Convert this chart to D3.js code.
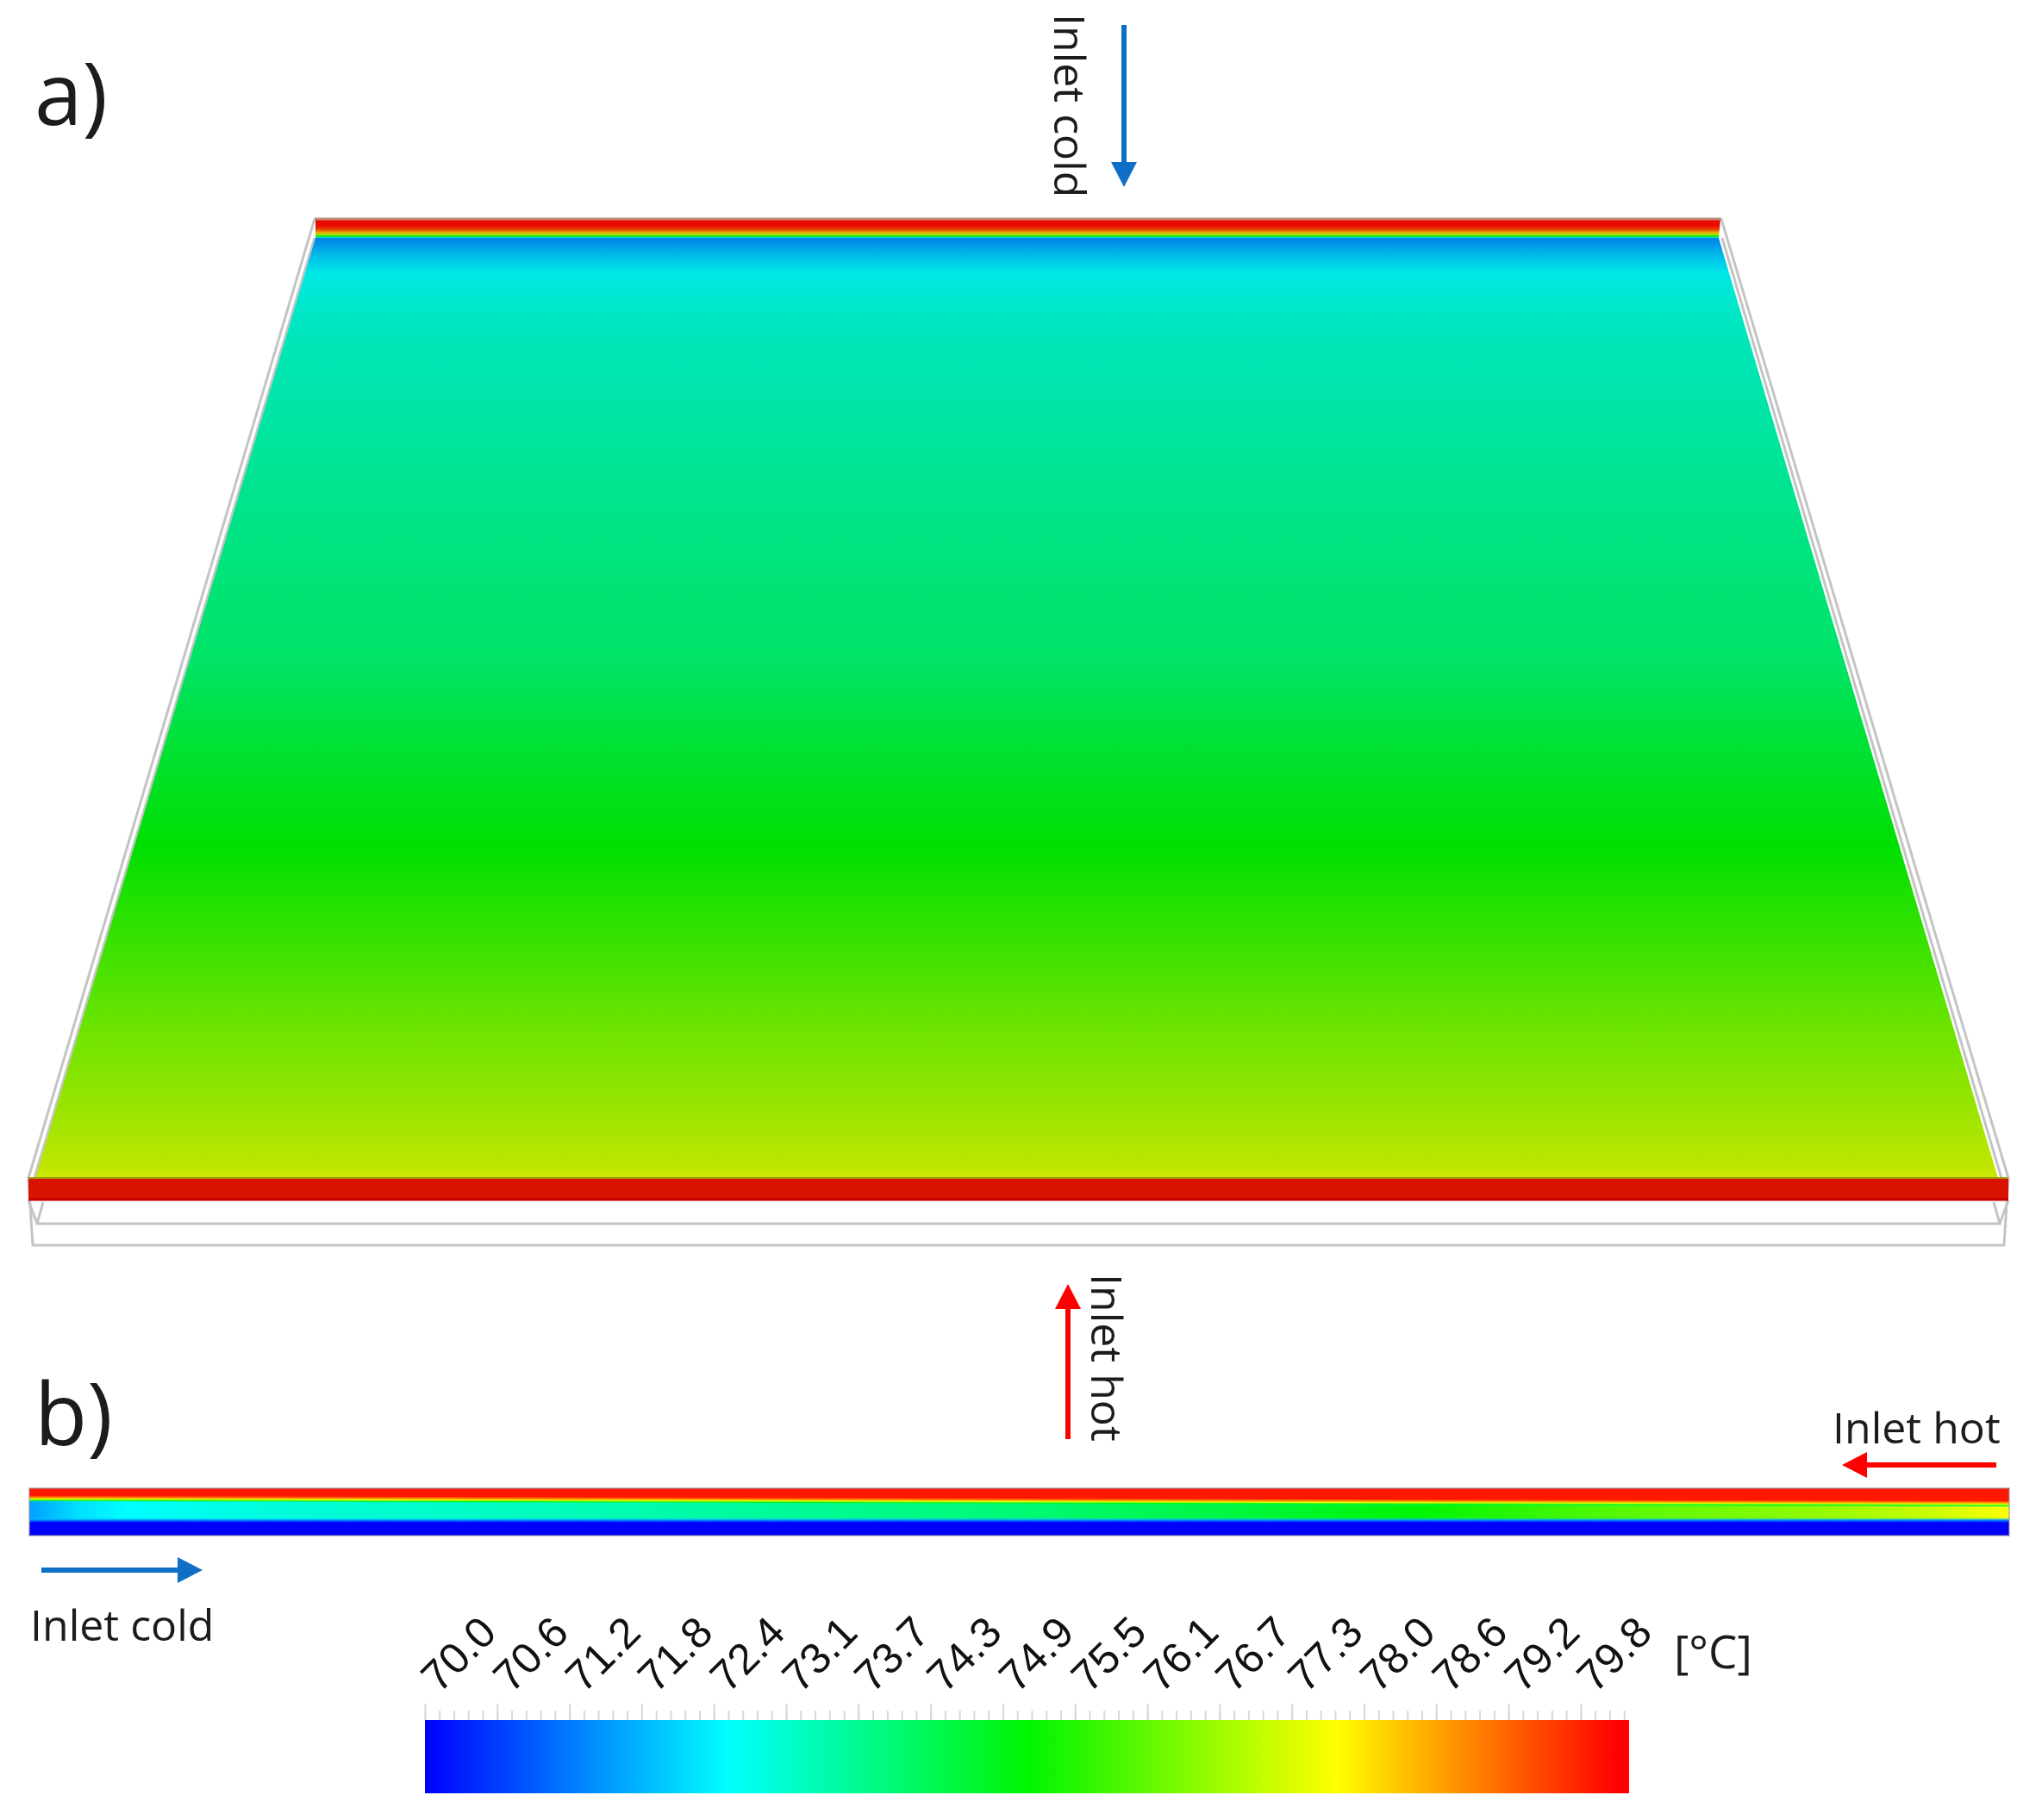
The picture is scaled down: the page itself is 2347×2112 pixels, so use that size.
<!DOCTYPE html>
<html>
<head>
<meta charset="utf-8">
<script src="https://cdn.jsdelivr.net/npm/d3@7"></script>
<style>
  html, body { margin: 0; padding: 0; background: #fff; }
  svg { display: block; }
  text { font-family: "Open Sans", sans-serif; fill: #1c1c1c; }
</style>
</head>
<body>
<svg id="chart" width="2347" height="2112"></svg>
<script>
// colour map of the legend (temperature -> colour)
const mapTemps = [70, 72.57, 75.14, 77.72, 80.12];
const mapColors = ["#0000ff", "#00ffff", "#00f500", "#ffff00", "#ff0000"];

// legend ticks
const tickLabels = ["70.0", "70.6", "71.2", "71.8", "72.4", "73.1", "73.7", "74.3", "74.9",
  "75.5", "76.1", "76.7", "77.3", "78.0", "78.6", "79.2", "79.8"];
const tickStep = 0.6125;
const legendMax = 80.21;

// panel a: temperature read down the plate, depth in % from the cold inlet edge
const plateDepth = [0, 0.7, 1.08, 1.44, 1.62, 1.8, 1.93, 2.0, 3.6, 5.6, 8.3, 12.8, 19.5, 26.1,
  32.7, 39.3, 45.9, 52.5, 59.1, 65.7, 72.3, 78.9, 85.5, 92.1, 98.7, 100];
const plateTemp = [80, 80, 79.5, 78.3, 77, 75.5, 73, 71.45, 72.0, 72.57, 72.85, 73.1, 73.3, 73.5,
  73.68, 73.86, 74.0, 74.4, 74.8, 75.14, 75.6, 76, 76.4, 76.8, 77.25, 77.45];

// panel b: middle layer temperature along the strip, position in %
const stripPos = [0, 2.5, 5, 11.6, 24.6, 37.6, 50.7, 60.5, 70.2, 80, 89.8, 96.3, 100];
const stripTemp = [71.6, 72.26, 72.57, 72.9, 73.2, 73.6, 74.0, 74.5, 75.14, 76, 76.6, 77.2, 77.72];

// panel b: hot and cold layer edges, offset in % across the band
const hotOffset = [0, 60, 72, 82, 90, 100];
const hotTemp = [79.9, 79.9, 78.8, 77.5, 75, 73];
const coldOffset = [0, 25, 50, 100];
const coldTemp = [72.4, 71.4, 70, 70];

const svg = d3.select("#chart");
const defs = svg.append("defs");

const colorScale = d3.scaleLinear().domain(mapTemps).range(mapColors).clamp(true);

// plate surface is lit, so it is a bit darker than the legend
const shade = c => {
  const k = 0.91, r = d3.rgb(c);
  return d3.rgb(r.r * k, r.g * k, r.b * k).formatHex();
};

function addGradient(id, x1, y1, x2, y2, offsets, colors, opacities) {
  const g = defs.append("linearGradient")
    .attr("id", id)
    .attr("gradientUnits", "userSpaceOnUse")
    .attr("x1", x1).attr("y1", y1).attr("x2", x2).attr("y2", y2);
  offsets.forEach((o, i) => {
    g.append("stop")
      .attr("offset", o + "%")
      .attr("stop-color", colors[i])
      .attr("stop-opacity", opacities ? opacities[i] : 1);
  });
}

function drawArrow(x1, y1, x2, y2, color) {
  const headLen = 29, headW = 15;
  const len = Math.hypot(x2 - x1, y2 - y1);
  const g = svg.append("g")
    .attr("transform", `translate(${x1},${y1}) rotate(${Math.atan2(y2 - y1, x2 - x1) * 180 / Math.PI})`);
  g.append("line")
    .attr("x1", 0).attr("x2", len - headLen + 2)
    .attr("stroke", color).attr("stroke-width", 6);
  g.append("path")
    .attr("d", d3.line()([[len - headLen, -headW], [len, 0], [len - headLen, headW]]) + "Z")
    .attr("fill", color);
}

// ---- panel a ----
const depthY = d3.scaleLinear().domain([0, 100]).range([254, 1367]);
const leftX = d3.scaleLinear().domain([2, 100]).range([366, 41]);
const rightX = d3.scaleLinear().domain([2, 100]).range([1994, 2318]);
const wireLeft = d3.scaleLinear().domain([0, 100]).range([365, 33]);
const wireRight = d3.scaleLinear().domain([0, 100]).range([1997, 2330]);
const line = d3.line();
const wireColor = "#c4c4c4";

// wire frame behind the plate
[[[wireLeft(0), depthY(0)], [wireLeft(100), depthY(100)], [38, 1445], [2325, 1445], [wireRight(100), depthY(100)], [wireRight(0), depthY(0)]],
 [[50, 1395], [43, 1420], [2320, 1420], [2313, 1395]],
 [[33, 1393], [43, 1420]],
 [[2330, 1393], [2320, 1420]],
 [[leftX(2) - 1, depthY(2)], [leftX(100) - 1, depthY(100)]],
 [[rightX(2) + 4, depthY(2)], [rightX(100) + 4, depthY(100)]]]
  .forEach(pts => {
    svg.append("path")
      .attr("d", line(pts))
      .attr("fill", "none")
      .attr("stroke", wireColor)
      .attr("stroke-width", 3);
  });

addGradient("plateGrad", 0, depthY(0), 0, depthY(100),
  plateDepth, plateTemp.map(t => shade(colorScale(t))));

svg.append("path")
  .attr("d", line([
    [wireLeft(0) + 1, depthY(0)], [wireRight(0) - 1, depthY(0)],
    [rightX(2), depthY(2)], [rightX(100), depthY(100)],
    [leftX(100), depthY(100)], [leftX(2), depthY(2)]
  ]) + "Z")
  .attr("fill", "url(#plateGrad)");

svg.append("line")
  .attr("x1", wireLeft(0)).attr("x2", wireRight(0))
  .attr("y1", depthY(0)).attr("y2", depthY(0))
  .attr("stroke", "#bf9184").attr("stroke-width", 3);

// hot inlet header at the front
svg.append("rect")
  .attr("x", wireLeft(100)).attr("y", depthY(100))
  .attr("width", wireRight(100) - wireLeft(100)).attr("height", 26)
  .attr("fill", "#d81400");
svg.append("line")
  .attr("x1", wireLeft(100)).attr("x2", wireRight(100))
  .attr("y1", depthY(100)).attr("y2", depthY(100))
  .attr("stroke", "#a09800").attr("stroke-width", 2);
svg.append("line")
  .attr("x1", wireLeft(100)).attr("x2", wireRight(100))
  .attr("y1", depthY(100) + 25).attr("y2", depthY(100) + 25)
  .attr("stroke", "#c80000").attr("stroke-width", 3);

// ---- panel b ----
const stripX = d3.scaleLinear().domain([0, 100]).range([34, 2331]);
const stripTop = 1727, stripBottom = 1782;

addGradient("stripMid", stripX(0), 0, stripX(100), 0, stripPos, stripTemp.map(colorScale));
// hot layer edge drifts slightly downward to the right, hence the tilted gradient
addGradient("stripHot", stripX(50), 1727, stripX(50) - 0.05, 1746,
  hotOffset, hotTemp.map(colorScale), [1, 1, 1, 1, 1, 0]);
addGradient("stripCold", 0, 1761, 0, 1773,
  coldOffset, coldTemp.map(colorScale), [0, 1, 1, 1]);

svg.append("rect")
  .attr("x", stripX(0)).attr("y", stripTop)
  .attr("width", stripX(100) - stripX(0)).attr("height", stripBottom - stripTop)
  .attr("fill", "url(#stripMid)");
svg.append("rect")
  .attr("x", stripX(0)).attr("y", stripTop)
  .attr("width", stripX(100) - stripX(0)).attr("height", 22)
  .attr("fill", "url(#stripHot)");
svg.append("rect")
  .attr("x", stripX(0)).attr("y", 1761)
  .attr("width", stripX(100) - stripX(0)).attr("height", stripBottom - 1761)
  .attr("fill", "url(#stripCold)");
svg.append("rect")
  .attr("x", stripX(0)).attr("y", stripTop)
  .attr("width", stripX(100) - stripX(0)).attr("height", stripBottom - stripTop)
  .attr("fill", "none")
  .attr("stroke", "#9a8fa8").attr("stroke-opacity", 0.55).attr("stroke-width", 2);

// ---- arrows ----
const coldBlue = "#0f6fc6", hotRed = "#ff0000";
drawArrow(1304, 29, 1304, 217, coldBlue);
drawArrow(1239, 1670, 1239, 1490, hotRed);
drawArrow(2316, 1700, 2137, 1700, hotRed);
drawArrow(48, 1822, 235, 1822, coldBlue);

// ---- labels ----
const addText = (str, x, y, size, rot) => svg.append("text")
  .attr("transform", `translate(${x},${y})` + (rot ? ` rotate(${rot})` : ""))
  .attr("font-size", size)
  .text(str);

addText("a)", 40, 145, 100);
addText("b)", 40, 1677, 100);
addText("Inlet cold", 1223, 16, 50, 90);
addText("Inlet hot", 1266, 1478, 50, 90);
addText("Inlet hot", 2126, 1675, 50);
addText("Inlet cold", 35, 1904, 50);
addText("[°C]", 1942, 1936, 53);

// ---- colour legend ----
const legendX = d3.scaleLinear().domain([70, legendMax]).range([493, 1890]);
const legendY = 1996, legendH = 85;

addGradient("legendGrad", legendX(70), 0, legendX(legendMax), 0,
  mapTemps.map(t => (t - 70) / (legendMax - 70) * 100), mapColors);

svg.append("rect")
  .attr("x", legendX(70)).attr("y", legendY)
  .attr("width", legendX(legendMax) - legendX(70)).attr("height", legendH)
  .attr("fill", "url(#legendGrad)");

const minorAxis = d3.axisTop(legendX)
  .tickValues(d3.range(0, 84).map(i => 70 + i * tickStep / 5))
  .tickSize(11)
  .tickFormat("");
const majorAxis = d3.axisTop(legendX)
  .tickValues(tickLabels.map((_, i) => 70 + i * tickStep))
  .tickSize(19)
  .tickFormat((d, i) => tickLabels[i]);

const minorG = svg.append("g").attr("transform", `translate(0,${legendY})`).call(minorAxis);
const majorG = svg.append("g").attr("transform", `translate(0,${legendY})`).call(majorAxis);

[minorG, majorG].forEach(g => {
  g.select(".domain").remove();
  g.selectAll("line").attr("stroke", "#d8d8d8").attr("stroke-width", 2);
});

majorG.selectAll("text")
  .style("fill", "#111")
  .style("font-family", '"Liberation Sans", Arial, sans-serif')
  .attr("font-size", 50)
  .attr("text-anchor", "start")
  .attr("dy", 0)
  .attr("x", 0).attr("y", 0)
  .attr("transform", "translate(16,-30) rotate(-45)");
</script>
</body>
</html>
